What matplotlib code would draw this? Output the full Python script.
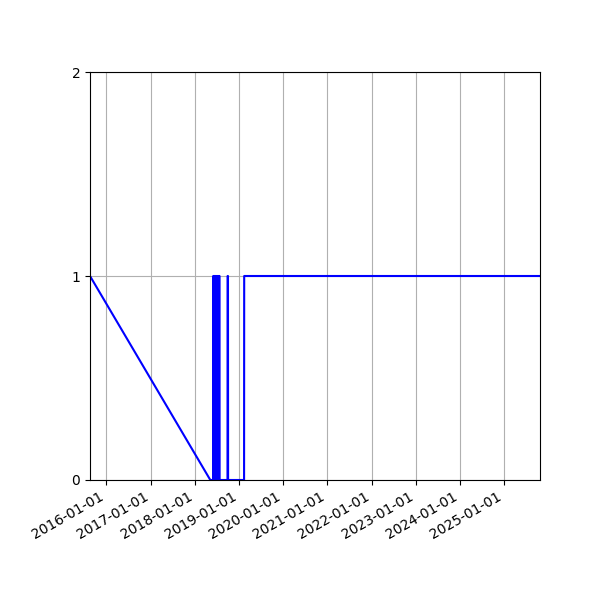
import matplotlib
matplotlib.use("Agg")
import matplotlib.pyplot as plt
import matplotlib.dates as mdates
import pandas as pd

dates = [
    "2015-08-20", "2018-05-10",
    "2018-06-02", "2018-06-03", "2018-06-06", "2018-06-07", "2018-06-10", "2018-06-11",
    "2018-06-14", "2018-06-15", "2018-06-18", "2018-06-19", "2018-06-22", "2018-06-23",
    "2018-06-26", "2018-06-27", "2018-06-30", "2018-07-01", "2018-07-04", "2018-07-05",
    "2018-07-08", "2018-07-09", "2018-07-12", "2018-07-13", "2018-07-16", "2018-07-17",
    "2018-07-20", "2018-07-21", "2018-07-25", "2018-07-26",
    "2018-09-29", "2018-09-30", "2018-10-03", "2018-10-04",
    "2019-02-13", "2019-02-14", "2025-10-24",
]
values = [
    1, 0,
    0, 1, 1, 0, 0, 1,
    1, 0, 0, 1, 1, 0,
    0, 1, 1, 0, 0, 1,
    1, 0, 0, 1, 1, 0,
    0, 1, 1, 0,
    0, 1, 1, 0,
    0, 1, 1,
]
yticks = [0, 1, 2]

x = pd.to_datetime(dates)
fig, ax = plt.subplots(figsize=(6, 6), dpi=100)
ax.plot(x, values, color="blue")
ax.set_xlim(x.min(), x.max())
ax.set_ylim(0, 2)
ax.set_yticks(yticks)
ax.xaxis.set_major_locator(mdates.YearLocator())
ax.xaxis.set_major_formatter(mdates.DateFormatter("%Y-%m-%d"))
ax.grid(True)
fig.autofmt_xdate()
fig.subplots_adjust(left=0.15, right=0.9, top=0.88, bottom=0.2)
fig.savefig("out.png")
